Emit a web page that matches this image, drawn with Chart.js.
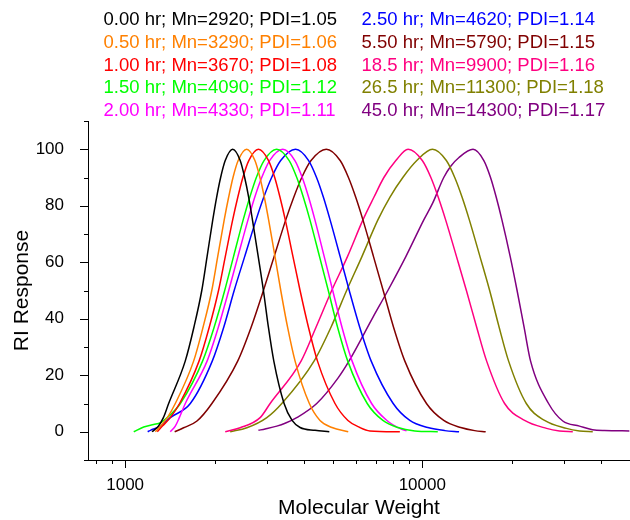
<!DOCTYPE html>
<html>
<head>
<meta charset="utf-8">
<script src="https://cdn.jsdelivr.net/npm/chart.js@4"></script>
<style>
  html, body { margin: 0; padding: 0; background: #fff; }
  #wrap { width: 630px; height: 520px; }
</style>
</head>
<body>
<div id="wrap"><canvas id="c" width="630" height="520"></canvas></div>
<script>
// ---- Data (MW on log axis, RI response) ----
const seriesLabels = [
  "0.00 hr; Mn=2920; PDI=1.05",
  "0.50 hr; Mn=3290; PDI=1.06",
  "1.00 hr; Mn=3670; PDI=1.08",
  "1.50 hr; Mn=4090; PDI=1.12",
  "2.00 hr; Mn=4330; PDI=1.11",
  "2.50 hr; Mn=4620; PDI=1.14",
  "5.50 hr; Mn=5790; PDI=1.15",
  "18.5 hr; Mn=9900; PDI=1.16",
  "26.5 hr; Mn=11300; PDI=1.18",
  "45.0 hr; Mn=14300; PDI=1.17"
];
const seriesColors = ["#000000","#FF8000","#FF0000","#00FF00","#FF00FF","#0000FF","#800000","#FF0080","#808000","#800080"];

const mw_000 = [1232,1294,1345,1401,1593,1704,1811,1887,1972,2032,2096,2172,2301,2439,2525,2605,2682,2805,2920,3035,3165,3427,3646,3879,4355,4865];
const ri_000 = [0,2,5,10,25,37,50,62,75,83,90,96,100,96,90,83,75,62,50,37,25,10,4,1.5,0.5,0];

const mw_050 = [1264,1314,1387,1475,1700,1829,1957,2049,2155,2230,2307,2401,2564,2734,2842,2941,3040,3194,3340,3521,3732,4168,4527,4967,5634];
const ri_050 = [0,2,5,10,25,37,50,62,75,83,90,96,100,96,90,83,75,62,50,37,25,10,4,1.5,0];

const mw_100 = [1284,1335,1419,1525,1773,1919,2062,2173,2301,2394,2490,2607,2809,3038,3187,3320,3459,3671,3879,4139,4440,5084,5621,6167,6663,8404];
const ri_100 = [0,2,5,10,25,37,50,62,75,83,90,96,100,96,90,83,75,62,50,37,25,10,4,1.5,0.3,0];

const mw_150 = [1069,1155,1247,1314,1387,1534,1822,1993,2163,2316,2496,2627,2764,2934,3234,3565,3781,3979,4187,4510,4827,5187,5613,6527,7369,8274,9437,11274];
const ri_150 = [0,1.7,2.6,3.2,5,10,25,37,50,62,75,83,90,96,100,96,90,83,75,62,50,37,25,10,4,1.5,0.3,0];

const mw_200 = [1419,1475,1522,1594,1887,2059,2232,2396,2591,2730,2882,3064,3393,3727,3945,4145,4352,4677,4995,5367,5806,6752,7600,8468,8852];
const ri_200 = [0,2,5,10,25,37,50,62,75,83,90,96,100,96,90,83,75,62,50,37,25,10,4,1,0.3];

const mw_250 = [1191,1216,1314,1419,1657,1964,2147,2328,2525,2758,2927,3112,3338,3746,4145,4407,4648,4895,5292,5678,6158,6731,7980,9078,10435,11901,13295];
const ri_250 = [0,0.5,2,5,10,25,37,50,62,75,83,90,96,100,96,90,83,75,62,50,37,25,10,4,1.5,0.4,0];

const mw_550 = [1468,1573,1745,1959,2392,2655,2920,3172,3472,3694,3930,4223,4753,5292,5643,5971,6313,6852,7386,8004,8736,10330,11808,13470,15008,16341];
const ri_550 = [0,1.4,3.8,10,25,37,50,62,75,83,90,96,100,96,90,83,75,62,50,37,25,10,4,1.5,0.4,0];

const mw_1850 = [2172,2439,2846,3076,3909,4389,4956,5600,6313,6873,7426,8148,8960,10000,10688,11318,11983,13036,14075,15241,16466,18923,22093,26193,28953,32093];
const ri_1850 = [0,1.4,5,10,25,37,50,62,75,83,90,96,100,96,90,83,75,62,50,37,25,10,4,1.2,0.3,0];

const mw_2650 = [2257,2569,2998,3367,4322,4929,5565,6264,7089,7778,8601,9584,10822,12049,12858,13614,14398,15635,16853,18138,19521,22384,25790,30565,33806,37463];
const ri_2650 = [0,1.4,5,10,25,37,50,62,75,83,90,96,100,96,90,83,75,62,50,37,25,10,4,1.2,0.3,0];

const mw_4500 = [2809,2959,3239,3454,3781,4413,5203,5665,6820,7659,8803,10117,10845,11808,12466,13261,14815,16113,16968,17736,18535,19764,20845,22006,23143,26600,29704,33806,37377,41009,49750];
const ri_4500 = [0.5,1,2,3,5,10,19,25,40.5,50,62,75,81,90,94,97,100,96,90,83,75,62,50,37,25,10,3.8,2,0.7,0.4,0.3];

const xTickLabels = [1000, 10000];
const xMinorTicks = [800,900,2000,3000,4000,5000,6000,7000,8000,9000,20000,30000,40000,50000];
const yTickLabels = [0,20,40,60,80,100];
const yMinorTicks = [-10,10,30,50,70,90,110];

const xSeries = [mw_000, mw_050, mw_100, mw_150, mw_200, mw_250, mw_550, mw_1850, mw_2650, mw_4500];
const ySeries = [ri_000, ri_050, ri_100, ri_150, ri_200, ri_250, ri_550, ri_1850, ri_2650, ri_4500];

// ---- Chart ----
const FONT = '"Liberation Sans", Arial, Helvetica, sans-serif';
Chart.defaults.font.family = FONT;
Chart.defaults.color = '#000';

const datasets = xSeries.map((xs, i) => ({
  label: seriesLabels[i],
  data: xs.map((x, j) => ({ x: x, y: ySeries[i][j] })),
  borderColor: seriesColors[i],
  backgroundColor: seriesColors[i],
  borderWidth: 1.5,
  pointRadius: 0,
  fill: false,
  cubicInterpolationMode: 'monotone'
}));

const tickMarks = {
  id: 'tickMarks',
  afterDraw(chart) {
    const ctx = chart.ctx, xs = chart.scales.x, ys = chart.scales.y;
    ctx.save();
    ctx.strokeStyle = '#000';
    ctx.lineWidth = 1;
    ctx.beginPath();
    const xLen = (v, len) => {
      const p = Math.round(xs.getPixelForValue(v)) + 0.5;
      ctx.moveTo(p, ys.bottom); ctx.lineTo(p, ys.bottom + len);
    };
    const yLen = (v, len) => {
      const p = Math.round(ys.getPixelForValue(v)) + 0.5;
      ctx.moveTo(xs.left, p); ctx.lineTo(xs.left - len, p);
    };
    xTickLabels.forEach(v => xLen(v, 8));
    xMinorTicks.forEach(v => xLen(v, 4));
    yTickLabels.forEach(v => yLen(v, 8));
    yMinorTicks.forEach(v => yLen(v, 4));
    ctx.stroke();
    ctx.restore();
  }
};

const textLegend = {
  id: 'textLegend',
  afterDraw(chart) {
    const ctx = chart.ctx;
    ctx.save();
    ctx.font = '18.5px ' + FONT;
    ctx.textBaseline = 'middle';
    ctx.textAlign = 'left';
    const colX = [103.5, 361.5];
    const rowY0 = 20, rowStep = 22.8;
    seriesLabels.forEach((t, i) => {
      const col = i < 5 ? 0 : 1, row = i % 5;
      ctx.fillStyle = seriesColors[i];
      ctx.fillText(t, colX[col], rowY0 + row * rowStep);
    });
    ctx.restore();
  }
};

new Chart(document.getElementById('c'), {
  type: 'line',
  data: { datasets },
  options: {
    responsive: false,
    animation: false,
    devicePixelRatio: 1,
    layout: { padding: { top: 121, left: 0, right: 0, bottom: 0 } },
    plugins: { legend: { display: false }, tooltip: { enabled: false } },
    scales: {
      x: {
        type: 'logarithmic',
        min: 750, max: 50000,
        grid: { display: false },
        border: { display: true, color: '#000', width: 1 },
        afterBuildTicks: s => { s.ticks = xTickLabels.map(v => ({ value: v })); },
        afterFit: s => { s.height = 60; },
        ticks: { font: { size: 17 }, color: '#000', padding: 7, maxRotation: 0,
                 callback: v => String(v) },
        title: { display: true, text: 'Molecular Weight', font: { size: 21, lineHeight: 1.1 }, color: '#000',
                 padding: { top: 0, bottom: 0 } }
      },
      y: {
        type: 'linear',
        min: -10, max: 110,
        grid: { display: false },
        border: { display: true, color: '#000', width: 1 },
        afterBuildTicks: s => { s.ticks = yTickLabels.map(v => ({ value: v })); },
        afterFit: s => { s.width = 88; },
        ticks: { font: { size: 17 }, color: '#000', padding: 16 },
        title: { display: true, text: 'RI Response', font: { size: 21 }, color: '#000',
                 padding: { top: 10, bottom: 0 } }
      }
    }
  },
  plugins: [tickMarks, textLegend]
});
</script>
</body>
</html>
